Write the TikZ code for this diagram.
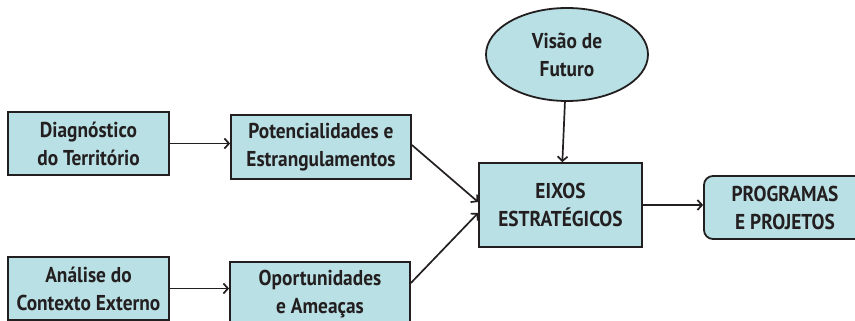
\documentclass[tikz,border=0pt]{standalone}
\usepackage{fontspec}
\setmainfont{PT Sans}[FakeStretch=0.9]
\usetikzlibrary{arrows.meta,shapes.geometric}
\definecolor{boxfill}{RGB}{185,224,228}
\definecolor{ink}{RGB}{35,31,32}
\tikzset{
  box/.style={draw=ink,fill=boxfill,line width=1.8pt,align=center,inner sep=0pt,
    font=\fontsize{21.5}{28}\selectfont\bfseries,text=ink},
  conn/.style={draw=ink,line width=1.7pt,-{Straight Barb[length=4.5pt,width=10pt,line width=1.7pt]}}
}
\begin{document}
\begin{tikzpicture}[x=1pt,y=-1pt]
\useasboundingbox (0,0) rectangle (855,321);
\begin{scope}
\clip (0,0) rectangle (855,321);
\node[box,minimum width=161pt,minimum height=63pt] (diag) at (88.5,143.5) {Diagnóstico\\do Território};
\node[box,minimum width=180pt,minimum height=64pt] (pot) at (321,147) {Potencialidades e\\Estrangulamentos};
\node[box,minimum width=161pt,minimum height=63pt] (anal) at (88.5,288.5) {Análise do\\Contexto Externo};
\node[box,minimum width=180pt,minimum height=64pt] (oport) at (320,294) {Oportunidades\\e Ameaças};
\node[box,ellipse,minimum width=162pt,minimum height=93pt] (vis) at (567,54.5) {Visão de\\Futuro};
\node[box,minimum width=163pt,minimum height=84pt] (eixos) at (560.5,205) {EIXOS\\ESTRATÉGICOS};
\node[box,rounded corners=9pt,minimum width=162pt,minimum height=63pt] (prog) at (785,207.5) {PROGRAMAS\\E PROJETOS};
\draw[conn] (diag.east) -- (diag.east -| pot.west);
\draw[conn] (anal.east) -- (anal.east -| oport.west);
\draw[conn] ([yshift=2pt]pot.east) -- ([yshift=3pt]eixos.west);
\draw[conn] ([yshift=11pt]oport.east) -- ([yshift=-8pt]eixos.west);
\draw[conn] (vis) -- (eixos);
\draw[conn] (eixos.east) -- (eixos.east -| prog.west);
\end{scope}
\end{tikzpicture}
\end{document}
